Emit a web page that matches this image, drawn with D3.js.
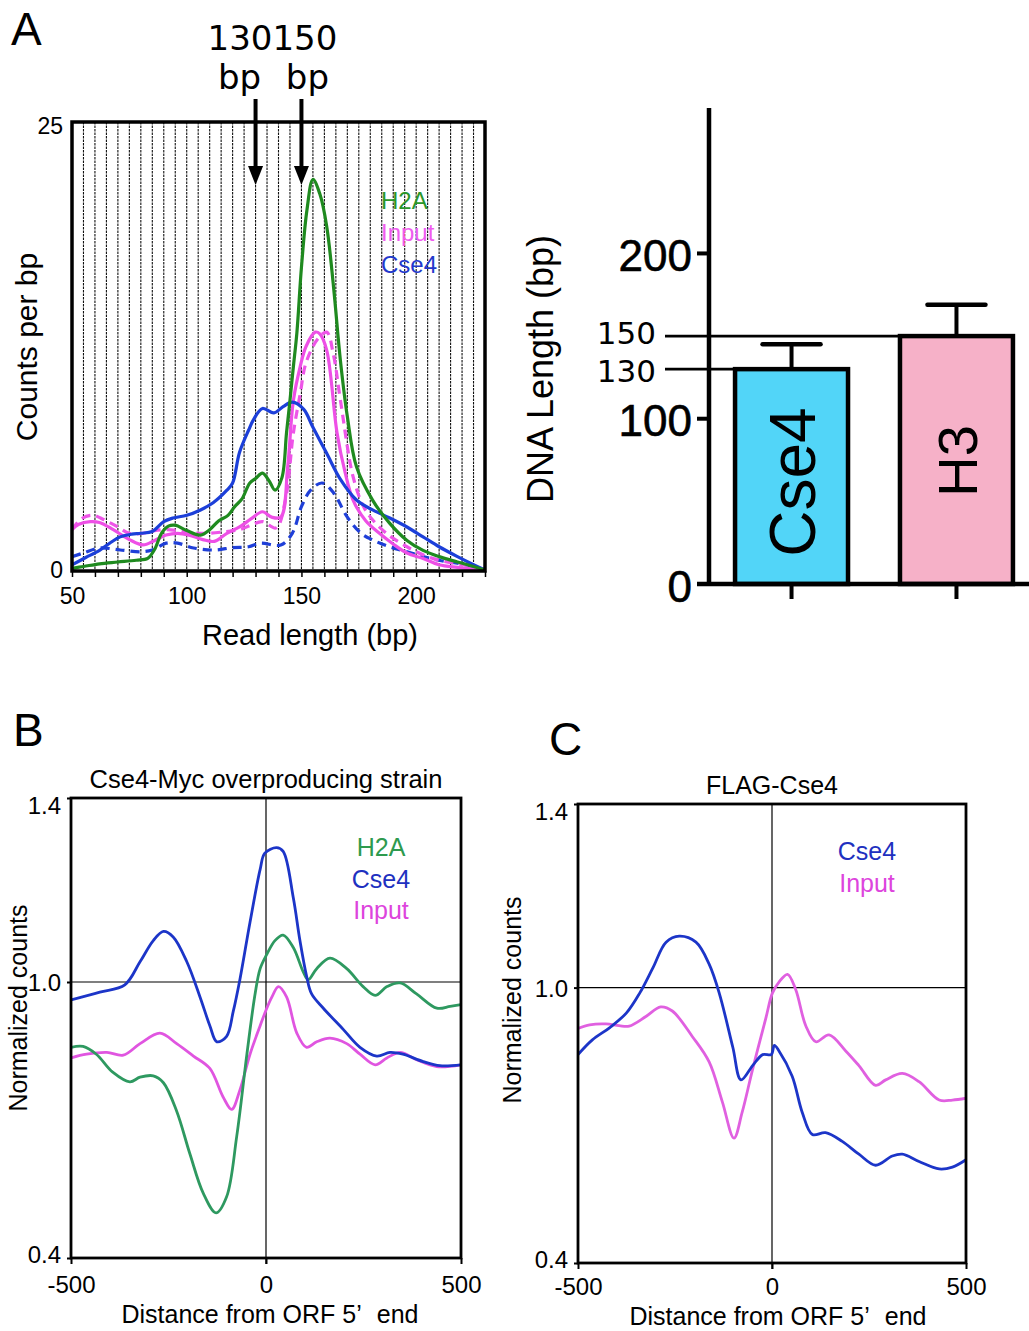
<!DOCTYPE html>
<html><head><meta charset="utf-8">
<script src="https://cdn.jsdelivr.net/npm/d3@7"></script>
<style>body{margin:0;background:#fff} svg{display:block}</style>
</head><body>
<svg id="fig" width="1029" height="1331"></svg>
<script>
// ---------------- DATA ----------------
// Panel A (read length histogram)
const h2aBp     = [50,55,62,70,78,83,86,89,92,95,100,106,110,114,118,121,124,127.5,130,133,136,138.5,141.5,143.5,145,146.5,148,150,152.4,155,158,161,164,167,170,174,181,188.5,196,203,210,218,225,230];
const h2aCounts = [0.15,0.25,0.4,0.5,0.6,0.7,1.2,2.1,2.5,2.55,2.25,2.0,2.3,2.8,3.1,3.6,4.0,4.9,5.15,5.45,5.0,4.5,5.2,7.7,9.5,11.4,13.25,16.9,20.1,21.8,21.0,19.2,15.8,11.7,8.6,5.8,3.95,2.65,1.7,1.15,0.8,0.5,0.25,0.05];

const cse4Bp     = [50,56,62,67,71,76,80,85,90,94,100,106,111.5,117.5,120,123,127,129,133,138,142,146,151,155,161,167,174,181,188.5,196,203,210,218,225,230];
const cse4Counts = [0.35,0.75,1.15,1.6,1.9,2.05,2.1,2.2,2.75,2.95,3.1,3.4,3.8,4.5,4.9,6.6,7.85,8.4,9.05,8.8,9.15,9.4,9.0,8.0,6.55,5.1,3.95,3.4,2.95,2.45,1.9,1.35,0.8,0.35,0.05];

const inputBp     = [50,53,58,62,68,75,81,86,91,96,101,107,112,117.5,123,128,133,137,141,144,146.5,149.5,152,156,158,161,165.5,169,172.5,178,184,190,196,203,210,218,225,230];
const inputCounts = [2.3,2.6,2.75,2.7,2.3,1.75,1.45,1.7,2.0,2.1,2.0,1.75,1.65,2.1,2.45,2.9,3.3,3.0,3.0,5.8,9.5,11.4,12.5,13.3,13.2,12.3,7.7,5.5,3.95,2.8,2.1,1.5,1.0,0.7,0.35,0.2,0.1,0.05];

const inputDashBp     = [50,54,59,64,70,75,81,86,91,96,100,105,110,117.5,123,128,133,139,143,146.5,149.5,152,157,161,164,167,172.5,177,181,188,196,203,210,218,225,230];
const inputDashCounts = [2.3,2.9,3.1,2.85,2.45,2.1,2.1,2.25,2.3,2.25,2.15,2.1,2.1,2.2,2.3,2.55,2.75,2.4,3.95,7.7,9.9,11.6,12.9,13.3,12.0,9.5,5.25,3.6,2.85,2.0,1.35,0.9,0.6,0.4,0.25,0.07];

const cse4DashBp     = [50,55,62,71,80,85,91,96,103,112,120,127,132,141,146,150,154,159,164,170,176,181,188.5,196,203,210,218,225,230];
const cse4DashCounts = [0.8,1.0,1.28,1.17,1.07,1.17,1.55,1.55,1.28,1.17,1.3,1.35,1.55,1.45,2.1,3.58,4.5,4.9,4.35,3.0,2.1,1.73,1.35,1.07,0.8,0.6,0.43,0.25,0.07];

const arrowBp = [130, 150];
const readTicks = [50, 100, 150, 200];

// Panel A right (bar chart)
const barCats   = ["Cse4", "H3"];
const barValues = [130, 150];
const barErrors = [15, 19];
const barTicks  = [0, 100, 200];
const refLines  = [150, 130];

// Panel B (Cse4-Myc overproducing strain)
const bDist   = [-500,-426,-362,-323,-289,-263,-238,-203,-169,-144,-126,-101,-84,-67,-41,-15,-3,27,44,70,87,104,117,147,198,241,284,318,351,403,446,500];
const bCse4   = [0.961,0.978,0.994,1.044,1.09,1.11,1.098,1.044,0.967,0.905,0.87,0.882,0.936,1.005,1.13,1.245,1.28,1.292,1.284,1.183,1.09,1.013,0.974,0.943,0.897,0.858,0.839,0.847,0.843,0.827,0.818,0.82];
const bDistH2A = [-500,-469,-435,-393,-349,-323,-289,-263,-229,-195,-161,-128,-101,-75,-49,-28,-15,2,23,44,70,96,108,130,164,207,249,280,310,344,386,438,472,500];
const bH2A     = [0.858,0.86,0.843,0.804,0.783,0.793,0.796,0.781,0.719,0.626,0.541,0.498,0.533,0.665,0.843,0.974,1.029,1.06,1.09,1.102,1.075,1.021,1.005,1.029,1.052,1.029,0.99,0.971,0.99,0.998,0.974,0.943,0.947,0.951];
const bDistIn  = [-500,-460,-408,-366,-323,-272,-229,-186,-144,-110,-88,-67,-41,-15,2,15,32,53,79,104,130,164,207,241,280,310,344,386,438,500];
const bInput   = [0.835,0.843,0.847,0.841,0.866,0.889,0.866,0.839,0.812,0.75,0.723,0.765,0.843,0.905,0.943,0.967,0.99,0.967,0.889,0.858,0.87,0.878,0.866,0.843,0.82,0.835,0.847,0.831,0.816,0.82];

// Panel C (FLAG-Cse4)
const cDist  = [-500,-463,-418,-375,-341,-307,-273,-239,-196,-162,-136,-101,-80,-50,-24,-2,6,18,52,78,104,138,181,224,267,310,336,379,431,465,500];
const cCse4  = [0.854,0.886,0.913,0.945,0.988,1.043,1.099,1.112,1.099,1.051,0.988,0.87,0.799,0.83,0.854,0.854,0.874,0.862,0.807,0.728,0.68,0.684,0.665,0.637,0.613,0.633,0.637,0.621,0.605,0.609,0.625];
const cDistIn = [-500,-470,-428,-394,-368,-325,-287,-257,-205,-162,-128,-98,-77,-50,-16,1,18,40,61,87,113,147,190,224,267,293,336,379,431,465,500];
const cInput  = [0.911,0.919,0.921,0.917,0.916,0.937,0.958,0.949,0.893,0.838,0.751,0.672,0.728,0.822,0.933,0.988,1.012,1.029,0.996,0.917,0.882,0.897,0.862,0.83,0.787,0.799,0.813,0.795,0.755,0.755,0.759];

const profileYTicks = [0.4, 1.0, 1.4];
const profileXTicks = [-500, 0, 500];

// ---------------- DRAWING ----------------
const svg = d3.select("#fig");
const SANS = "'Liberation Sans', Arial, Helvetica, sans-serif";
const DEJA = "'DejaVu Sans', Verdana, sans-serif";
const zip = (xs, ys) => xs.map((x, i) => [x, ys[i]]);

function txt(g, x, y, s, size, opts = {}) {
  const t = g.append("text").attr("x", x).attr("y", y).text(s)
    .attr("font-family", opts.family || SANS).attr("font-size", size)
    .attr("fill", opts.fill || "#000")
    .attr("text-anchor", opts.anchor || "start");
  if (opts.rotate) t.attr("transform", `rotate(${opts.rotate},${x},${y})`);
  if (opts.baseline) t.attr("dominant-baseline", opts.baseline);
  return t;
}

// panel letters
txt(svg, 11, 45, "A", 46);
txt(svg, 13, 746, "B", 46);
txt(svg, 549, 755, "C", 46);

// ---- Panel A left ----
const xA = d3.scaleLinear().domain([50, 230]).range([72, 485]);
const yA = d3.scaleLinear().domain([0, 25]).range([571, 122]);
const gA = svg.append("g");

gA.append("clipPath").attr("id", "clipA").append("rect")
  .attr("x", xA(50)).attr("y", yA(25)).attr("width", xA(230) - xA(50)).attr("height", yA(0) - yA(25));

gA.selectAll("line.grid").data(d3.range(55, 230, 5)).join("line")
  .attr("x1", d => xA(d)).attr("x2", d => xA(d))
  .attr("y1", yA(25)).attr("y2", yA(0))
  .attr("stroke", "#111").attr("stroke-width", 1.1).attr("stroke-dasharray", "2.5,1");

const lineA = d3.line().x(d => xA(d[0])).y(d => yA(d[1])).curve(d3.curveCatmullRom.alpha(0.5));
const curvesA = [
  {d: zip(cse4DashBp, cse4DashCounts), c: "#1f3fd8", dash: "9,6"},
  {d: zip(inputDashBp, inputDashCounts), c: "#ee55e8", dash: "9,6"},
  {d: zip(inputBp, inputCounts), c: "#ee4fe6", dash: null},
  {d: zip(cse4Bp, cse4Counts), c: "#1c3fd9", dash: null},
  {d: zip(h2aBp, h2aCounts), c: "#1f8a1f", dash: null},
];
const gCurvesA = gA.append("g").attr("clip-path", "url(#clipA)");
curvesA.forEach(s => {
  gCurvesA.append("path").attr("d", lineA(s.d)).attr("fill", "none")
    .attr("stroke", s.c).attr("stroke-width", 3.2)
    .attr("stroke-dasharray", s.dash).attr("stroke-linejoin", "round");
});

gA.append("rect").attr("x", xA(50)).attr("y", yA(25))
  .attr("width", xA(230) - xA(50)).attr("height", yA(0) - yA(25))
  .attr("fill", "none").attr("stroke", "#000").attr("stroke-width", 3.5);

// x axis
const axA = gA.append("g").attr("transform", `translate(0,${yA(0)})`)
  .call(d3.axisBottom(xA).tickValues(d3.range(50, 231, 10)).tickSize(6).tickPadding(12)
    .tickFormat(d => readTicks.includes(d) ? d : ""));
axA.select(".domain").remove();
axA.selectAll("line").attr("stroke", "#000").attr("stroke-width", 1.5);
axA.selectAll("text").attr("font-family", SANS).attr("font-size", 23).attr("fill", "#000").attr("dy", "0.65em");

const ayA = gA.append("g").attr("transform", `translate(${xA(50)},0)`)
  .call(d3.axisLeft(yA).tickValues([0, 25]).tickSize(0).tickPadding(9));
ayA.select(".domain").remove();
ayA.selectAll("text").attr("font-family", SANS).attr("font-size", 23).attr("fill", "#000")
  .attr("dy", d => d === 25 ? "0.5em" : "0.3em");

txt(gA, 310, 645, "Read length (bp)", 29, {anchor: "middle"});
txt(gA, 37, 347, "Counts per bp", 30, {anchor: "middle", rotate: -90});

// legend A
txt(gA, 381, 209, "H2A", 24, {fill: "#2a962a"});
txt(gA, 381, 241, "Input", 24, {fill: "#f05cf0"});
txt(gA, 381, 273, "Cse4", 24, {fill: "#2238cc"});

// arrows + labels
txt(gA, 272.5, 50, "130150", 34, {family: DEJA, anchor: "middle"});
arrowBp.forEach((bp, i) => {
  const x = xA(bp);
  txt(gA, i === 0 ? x - 16 : x + 6, 89, "bp", 34, {family: DEJA, anchor: "middle"});
  gA.append("line").attr("x1", x).attr("x2", x).attr("y1", 99).attr("y2", 172)
    .attr("stroke", "#000").attr("stroke-width", 4);
  gA.append("path").attr("d", `M${x - 7.5},166 L${x + 7.5},166 L${x},185 Z`).attr("fill", "#000");
});

// ---- Panel A right : bar chart ----
const yBar = d3.scaleLinear().domain([0, 288]).range([584, 108]);
const xBar = d3.scaleBand().domain(barCats).range([708, 1040]).paddingInner(0.315).paddingOuter(0.164);
const gBar = svg.append("g");
const axisX = 709;

gBar.selectAll("rect.bar").data(barCats).join("rect")
  .attr("x", d => xBar(d)).attr("width", xBar.bandwidth())
  .attr("y", (d, i) => yBar(barValues[i])).attr("height", (d, i) => yBar(0) - yBar(barValues[i]))
  .attr("fill", (d, i) => i === 0 ? "#52d5f8" : "#f6b1c8")
  .attr("stroke", "#000").attr("stroke-width", 4.5);

// error bars
barCats.forEach((c, i) => {
  const cx = xBar(c) + xBar.bandwidth() / 2;
  gBar.append("line").attr("x1", cx).attr("x2", cx)
    .attr("y1", yBar(barValues[i])).attr("y2", yBar(barValues[i] + barErrors[i]))
    .attr("stroke", "#000").attr("stroke-width", 4);
  gBar.append("line").attr("x1", cx - 29).attr("x2", cx + 29)
    .attr("y1", yBar(barValues[i] + barErrors[i])).attr("y2", yBar(barValues[i] + barErrors[i]))
    .attr("stroke", "#000").attr("stroke-width", 4.5).attr("stroke-linecap", "round");
  gBar.append("line").attr("x1", cx).attr("x2", cx).attr("y1", yBar(0)).attr("y2", yBar(0) + 15)
    .attr("stroke", "#000").attr("stroke-width", 4);
  const ly = i === 0 ? 482 : 461;
  txt(gBar, cx + 1, ly, c, i === 0 ? 64 : 56, {anchor: "middle", rotate: -90, baseline: "central"});
});

// axes
gBar.append("line").attr("x1", axisX).attr("x2", axisX).attr("y1", yBar(288)).attr("y2", yBar(0) + 2)
  .attr("stroke", "#000").attr("stroke-width", 4.5);
gBar.append("line").attr("x1", 697).attr("x2", 1029).attr("y1", yBar(0)).attr("y2", yBar(0))
  .attr("stroke", "#000").attr("stroke-width", 4.5);
barTicks.forEach(t => {
  gBar.append("line").attr("x1", 697).attr("x2", axisX).attr("y1", yBar(t)).attr("y2", yBar(t))
    .attr("stroke", "#000").attr("stroke-width", 4);
  txt(gBar, 692, yBar(t) + 2, t, 44, {anchor: "end", baseline: "central"})
    .attr("stroke", "#000").attr("stroke-width", 0.6);
});

// reference lines 150 / 130
refLines.forEach((v, i) => {
  const endX = xBar(barCats[i === 0 ? 1 : 0]);
  gBar.append("line").attr("x1", 665).attr("x2", endX).attr("y1", yBar(v)).attr("y2", yBar(v))
    .attr("stroke", "#000").attr("stroke-width", 2.8);
  txt(gBar, 656, yBar(v) + (i === 0 ? -3 : 2), v, 31, {family: DEJA, anchor: "end", baseline: "central"});
});

txt(gBar, 553, 369, "DNA Length (bp)", 36, {anchor: "middle", rotate: -90});

// ---- Profile panels B and C ----
function profile(cfg) {
  const g = svg.append("g");
  const x = d3.scaleLinear().domain([-500, 500]).range([cfg.x0, cfg.x1]);
  const y = d3.scaleLinear().domain([0.4, 1.4]).range([cfg.y1, cfg.y0]);
  const id = "clip" + cfg.name;
  g.append("clipPath").attr("id", id).append("rect")
    .attr("x", cfg.x0).attr("y", cfg.y0).attr("width", cfg.x1 - cfg.x0).attr("height", cfg.y1 - cfg.y0);

  g.append("line").attr("x1", x(-500)).attr("x2", x(500)).attr("y1", y(1.0)).attr("y2", y(1.0))
    .attr("stroke", "#000").attr("stroke-width", 1.2);
  g.append("line").attr("x1", x(0)).attr("x2", x(0)).attr("y1", y(1.4)).attr("y2", y(0.4) + 6)
    .attr("stroke", "#000").attr("stroke-width", 1.2);

  const ln = d3.line().x(d => x(d[0])).y(d => y(d[1])).curve(d3.curveCatmullRom.alpha(0.5));
  const gc = g.append("g").attr("clip-path", `url(#${id})`);
  cfg.series.forEach(s => {
    gc.append("path").attr("d", ln(s.d)).attr("fill", "none").attr("stroke", s.c)
      .attr("stroke-width", 2.8).attr("stroke-linejoin", "round");
  });

  g.append("rect").attr("x", cfg.x0).attr("y", cfg.y0).attr("width", cfg.x1 - cfg.x0)
    .attr("height", cfg.y1 - cfg.y0).attr("fill", "none").attr("stroke", "#000").attr("stroke-width", 2.8);

  const ax = g.append("g").attr("transform", `translate(0,${cfg.y1})`)
    .call(d3.axisBottom(x).tickValues(profileXTicks).tickSize(6).tickPadding(cfg.tickPad).tickFormat(d => String(d)));
  ax.select(".domain").remove();
  ax.selectAll("line").attr("stroke", "#000").attr("stroke-width", 2);
  ax.selectAll("text").attr("font-family", SANS).attr("font-size", 24).attr("fill", "#000").attr("dy", "0.6em");

  const ay = g.append("g").attr("transform", `translate(${cfg.x0},0)`)
    .call(d3.axisLeft(y).tickValues(profileYTicks).tickSize(4).tickPadding(6).tickFormat(d3.format(".1f")));
  ay.select(".domain").remove();
  ay.selectAll("line").attr("stroke", "#000").attr("stroke-width", 2);
  ay.selectAll("text").attr("font-family", SANS).attr("font-size", 24).attr("fill", "#000")
    .attr("dy", d => d === 1.4 ? "0.65em" : (d === 0.4 ? "0.2em" : "0.35em"));

  txt(g, (cfg.x0 + cfg.x1) / 2, cfg.y0 - 10, cfg.title, cfg.titleSize, {anchor: "middle"});
  txt(g, cfg.ylabX, cfg.ylabY, "Normalized counts", 25, {anchor: "middle", rotate: -90});

  const xt = txt(g, cfg.xlabX, cfg.xlabY, "Distance from ORF 5’", 25, {anchor: "middle"});
  xt.append("tspan").attr("dx", 9).text(" end");

  cfg.legend.forEach((l, i) => {
    txt(g, cfg.legX, cfg.legY + i * 31.5, l.t, 25, {anchor: "middle", fill: l.c});
  });
}

profile({
  name: "B", x0: 71, x1: 461, y0: 798, y1: 1258, tickPad: 15,
  title: "Cse4-Myc overproducing strain", titleSize: 25.5,
  ylabX: 27, ylabY: 1008, xlabX: 270, xlabY: 1323,
  series: [
    {d: zip(bDistIn, bInput), c: "#e055e0"},
    {d: zip(bDistH2A, bH2A), c: "#2e9960"},
    {d: zip(bDist, bCse4), c: "#1c35c8"},
  ],
  legX: 381, legY: 856,
  legend: [{t: "H2A", c: "#2e9a4e"}, {t: "Cse4", c: "#2030c0"}, {t: "Input", c: "#dd44dd"}],
});

profile({
  name: "C", x0: 578, x1: 966, y0: 804, y1: 1263, tickPad: 12,
  title: "FLAG-Cse4", titleSize: 25,
  ylabX: 521, ylabY: 1000, xlabX: 778, xlabY: 1325,
  series: [
    {d: zip(cDistIn, cInput), c: "#e060e0"},
    {d: zip(cDist, cCse4), c: "#1c35c8"},
  ],
  legX: 867, legY: 860,
  legend: [{t: "Cse4", c: "#2030c0"}, {t: "Input", c: "#dd44dd"}],
});
</script>
</body></html>
